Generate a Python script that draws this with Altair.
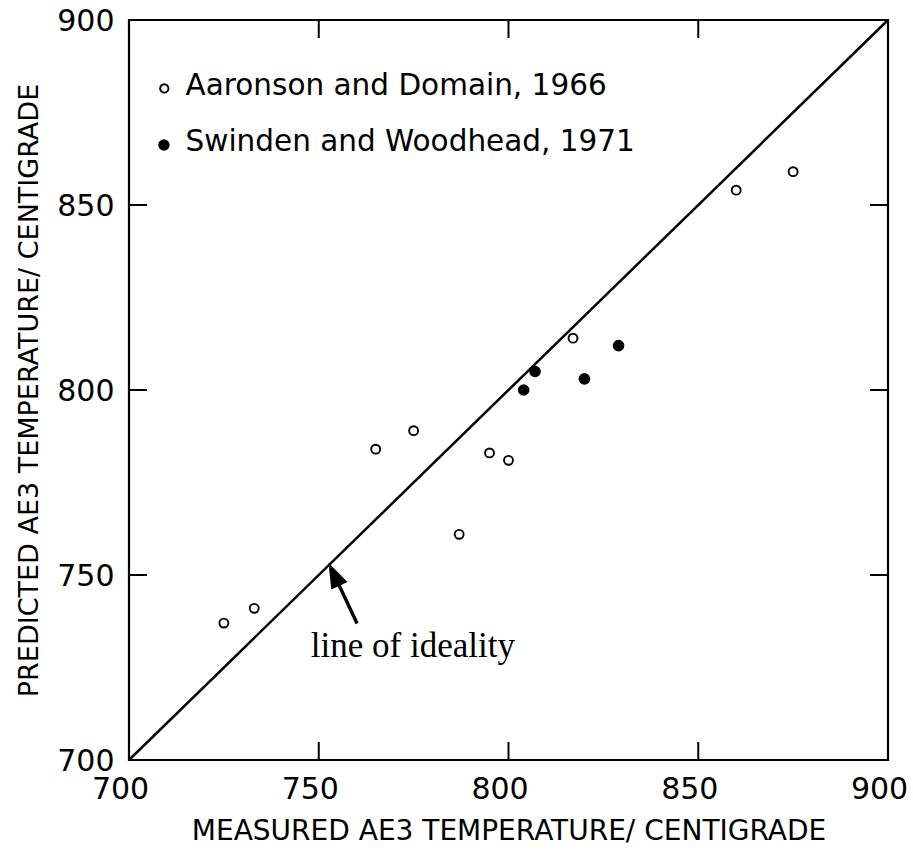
import altair as alt
import pandas as pd

# ---- data ----
aaronson_x = [725, 733, 765, 775, 787, 795, 800, 817, 860, 875]
aaronson_y = [737, 741, 784, 789, 761, 783, 781, 814, 854, 859]
swinden_x = [804, 807, 820, 829]
swinden_y = [800, 805, 803, 812]

ideal_x = [700, 900]
ideal_y = [700, 900]

tick_values = [750, 800, 850]
label_values = [700, 750, 800, 850, 900]

legend_labels = ["Aaronson and Domain, 1966", "Swinden and Woodhead, 1971"]
legend_marker_x = [709.3, 709.2]
legend_marker_y = [881.5, 866.2]
legend_text_x = [714.9, 714.9]
legend_text_y = [879.7, 864.7]

arrow_tail = (760.1, 736.9)
arrow_head = (754.0, 750.2)
note_text = "line of ideality"
note_pos = (774.8, 727.8)

W, H = 759, 740
TICK = 18
FONT = "DejaVu Sans"

xs = alt.Scale(domain=[700, 900], nice=False, zero=False)
ys = alt.Scale(domain=[700, 900], nice=False, zero=False)

x_axis = alt.Axis(values=label_values, ticks=False, domain=False, grid=False,
                  labelFont=FONT, labelFontSize=30, labelColor="black",
                  labelPadding=14, labelFlush=False, labelOverlap=False,
                  labelOffset=-9,
                  title="MEASURED AE3 TEMPERATURE/ CENTIGRADE",
                  titleFont=FONT, titleFontSize=28, titleFontWeight="normal",
                  titleColor="black", titlePadding=13)
y_axis = alt.Axis(values=label_values, ticks=False, domain=False, grid=False,
                  labelFont=FONT, labelFontSize=30, labelColor="black",
                  labelPadding=15, labelFlush=False, labelOverlap=False,
                  labelOffset=1,
                  title="PREDICTED AE3 TEMPERATURE/ CENTIGRADE",
                  titleFont=FONT, titleFontSize=27, titleFontWeight="normal",
                  titleColor="black", titlePadding=13)


def X(field="x"):
    return alt.X(f"{field}:Q", scale=xs, axis=x_axis)


def Y(field="y"):
    return alt.Y(f"{field}:Q", scale=ys, axis=y_axis)


ideal_df = pd.DataFrame({"x": ideal_x, "y": ideal_y})
ideal = alt.Chart(ideal_df).mark_line(color="black", strokeWidth=2.5).encode(x=X(), y=Y())

open_pts = alt.Chart(pd.DataFrame({"x": aaronson_x, "y": aaronson_y})).mark_point(
    shape="circle", filled=False, stroke="black", strokeWidth=1.9, size=80, opacity=1
).encode(x=X(), y=Y())

filled_pts = alt.Chart(pd.DataFrame({"x": swinden_x, "y": swinden_y})).mark_point(
    shape="circle", filled=True, fill="black", size=135, opacity=1
).encode(x=X(), y=Y())

leg_df = pd.DataFrame({"x": legend_marker_x, "y": legend_marker_y,
                       "tx": legend_text_x, "ty": legend_text_y,
                       "label": legend_labels})
leg_open = alt.Chart(leg_df.iloc[[0]]).mark_point(
    shape="circle", filled=False, stroke="black", strokeWidth=1.9, size=70, opacity=1
).encode(x=X(), y=Y())
leg_fill = alt.Chart(leg_df.iloc[[1]]).mark_point(
    shape="circle", filled=True, fill="black", size=130, opacity=1
).encode(x=X(), y=Y())
leg_text = alt.Chart(leg_df).mark_text(
    align="left", baseline="alphabetic", font=FONT, fontSize=29.5, color="black"
).encode(x=X("tx"), y=Y("ty"), text="label:N")

shaft = alt.Chart(pd.DataFrame({"x": [arrow_tail[0]], "y": [arrow_tail[1]],
                                "x2": [arrow_head[0]], "y2": [arrow_head[1]]})).mark_rule(
    color="black", strokeWidth=3.4
).encode(x=X(), y=Y(), x2="x2:Q", y2="y2:Q")

head = alt.Chart(pd.DataFrame({"x": [arrow_head[0]], "y": [arrow_head[1]]})).mark_point(
    shape="M0,-1L0.7,1L-0.7,1Z", filled=True, fill="black", size=650, angle=334.7, opacity=1
).encode(x=X(), y=Y())

note = alt.Chart(pd.DataFrame({"x": [note_pos[0]], "y": [note_pos[1]], "t": [note_text]})).mark_text(
    align="center", baseline="alphabetic", font="Liberation Serif", fontSize=35, color="black"
).encode(x=X(), y=Y(), text="t:N")

tick_df = pd.DataFrame({"v": tick_values})
tb = alt.Chart(tick_df).mark_rule(color="black", strokeWidth=2).encode(
    x=X("v"), y=alt.value(H), y2=alt.value(H - TICK))
tt = alt.Chart(tick_df).mark_rule(color="black", strokeWidth=2).encode(
    x=X("v"), y=alt.value(0), y2=alt.value(TICK))
tl = alt.Chart(tick_df).mark_rule(color="black", strokeWidth=2).encode(
    y=Y("v"), x=alt.value(0), x2=alt.value(TICK))
tr = alt.Chart(tick_df).mark_rule(color="black", strokeWidth=2).encode(
    y=Y("v"), x=alt.value(W), x2=alt.value(W - TICK))

chart = alt.layer(
    ideal, open_pts, filled_pts, leg_open, leg_fill, leg_text, shaft, head, note,
    tb, tt, tl, tr
).properties(
    width=W, height=H,
    padding={"left": 129, "top": 20, "right": 25, "bottom": 96},
    autosize="none",
    background="white",
).configure_view(stroke="black", strokeWidth=2.2)

chart.save("out.html", embed_options={"renderer": "svg", "actions": False})
